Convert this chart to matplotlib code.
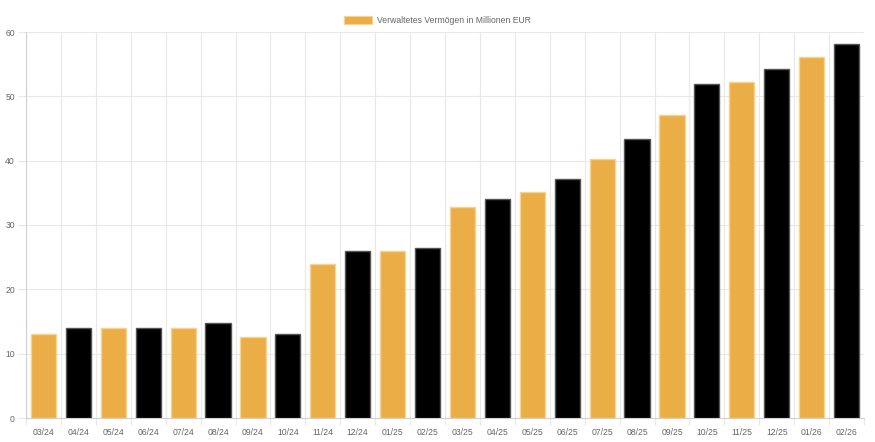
import matplotlib.pyplot as plt
import numpy as np

months = ['03/24', '04/24', '05/24', '06/24', '07/24', '08/24', '09/24', '10/24',
          '11/24', '12/24', '01/25', '02/25', '03/25', '04/25', '05/25', '06/25',
          '07/25', '08/25', '09/25', '10/25', '11/25', '12/25', '01/26', '02/26']
aum = [13.0, 14.0, 14.0, 14.0, 14.0, 14.8, 12.6, 13.1,
       24.0, 25.9, 26.0, 26.5, 32.8, 34.0, 35.2, 37.1,
       40.2, 43.3, 47.1, 51.9, 52.3, 54.2, 56.1, 58.2]
legend_label = 'Verwaltetes Vermögen in Millionen EUR'

plt.rcParams['font.family'] = ['Liberation Sans', 'DejaVu Sans']

orange = '#EBAD45'
fill_colors = [orange if i % 2 == 0 else '#000000' for i in range(len(months))]
edge_colors = ['#F6D391' if i % 2 == 0 else '#555555' for i in range(len(months))]

fig = plt.figure(figsize=(8.75, 4.42), dpi=100)
ax = fig.add_axes([26 / 875, 1 - 418 / 442, (864 - 26) / 875, (418 - 32) / 442])

x = np.arange(len(months))
bars = ax.bar(x, aum, width=0.72, color=fill_colors, edgecolor=edge_colors,
              linewidth=1.0, zorder=3)

ax.set_xlim(-0.5, len(months) - 0.5)
ax.set_ylim(0, 60)
ax.set_yticks(range(0, 61, 10))
ax.set_xticks(x)
ax.set_xticklabels(months)
ax.set_xticks(np.arange(-0.5, len(months), 1.0), minor=True)

# vertical grid at category boundaries like Chart.js
for b in np.arange(-0.5, len(months), 1.0):
    ax.axvline(b, color='#E8E8E8', linewidth=0.8, zorder=0)
for yv in range(10, 61, 10):
    ax.axhline(yv, color='#E8E8E8', linewidth=0.8, zorder=0)

ax.tick_params(axis='x', which='major', length=0, pad=7, labelsize=6.2,
               labelcolor='#666666')
ax.tick_params(axis='x', which='minor', length=5, width=0.8, color='#E8E8E8')
ax.tick_params(axis='y', length=6, width=0.8, color='#E8E8E8', pad=2,
               labelsize=6.2, labelcolor='#666666')
for side in ['top', 'right']:
    ax.spines[side].set_visible(False)
ax.spines['left'].set_color('#D0D0D0')
ax.spines['bottom'].set_color('#D0D0D0')
ax.spines['left'].set_linewidth(0.8)
ax.spines['bottom'].set_linewidth(0.8)

# legend
fig.patches.append(plt.Rectangle((344 / 875, 1 - 24 / 442), 28 / 875, 8 / 442,
                                 transform=fig.transFigure, facecolor=orange,
                                 edgecolor='#F6D391', linewidth=0.8))
fig.text(377 / 875, 1 - 20.5 / 442, legend_label, fontsize=6.2, color='#666666',
         va='center', ha='left')

fig.savefig('out.png', dpi=100)
